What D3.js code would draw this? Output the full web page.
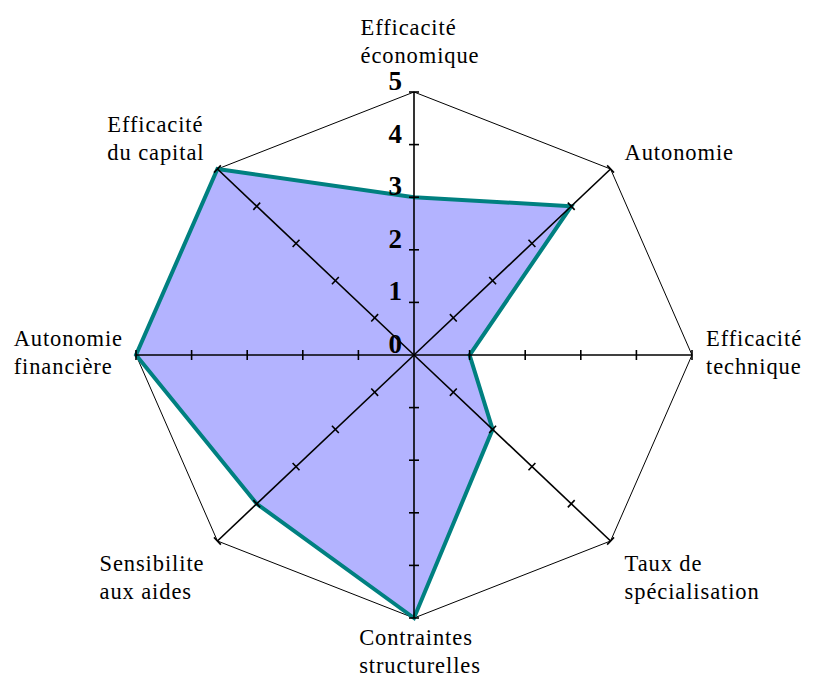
<!DOCTYPE html>
<html><head><meta charset="utf-8">
<script src="https://cdn.jsdelivr.net/npm/d3@7"></script>
<style>
body{margin:0;background:#fff}
text{font-family:'Liberation Serif','Times New Roman',serif;}
</style>
</head><body><svg id="c" width="814" height="677"></svg>
<script>
const categories = [["Efficacité","économique"],["Autonomie"],["Efficacité","technique"],["Taux de","spécialisation"],["Contraintes","structurelles"],["Sensibilite","aux aides"],["Autonomie","financière"],["Efficacité","du capital"]];
const values = [3,4,1,2,5,4,5,5];
const tickValues = [0,1,2,3,4,5];

const cx = 414, cy = 355, rx = 278, ry = 263;
const rX = d3.scaleLinear().domain([0,5]).range([0,rx]);
const rY = d3.scaleLinear().domain([0,5]).range([0,ry]);
const n = categories.length;
const ang = i => i * 2 * Math.PI / n;
const pt = (i, v) => [cx + rX(v) * Math.sin(ang(i)), cy - rY(v) * Math.cos(ang(i))];

const svg = d3.select("#c");
const line = d3.line();

// outer web
svg.append("path")
  .attr("d", line(d3.range(n).map(i => pt(i, 5))) + "Z")
  .attr("fill", "none").attr("stroke", "#000").attr("stroke-width", 1);

// data polygon
svg.append("path")
  .attr("d", line(values.map((v, i) => pt(i, v))) + "Z")
  .attr("fill", "#b3b3ff").attr("stroke", "#008080").attr("stroke-width", 4)
  .attr("stroke-linejoin", "miter");

// axes
const ax = svg.append("g");
d3.range(n).forEach(i => {
  const [x1, y1] = pt(i, 5);
  ax.append("line").attr("x1", cx).attr("y1", cy).attr("x2", x1).attr("y2", y1)
    .attr("stroke", "#000").attr("stroke-width", 1.6);
  const dx = x1 - cx, dy = y1 - cy, L = Math.hypot(dx, dy);
  const px = -dy / L * 5, py = dx / L * 5;
  tickValues.filter(t => t > 0).forEach(t => {
    const [tx, ty] = pt(i, t);
    ax.append("line").attr("x1", tx - px).attr("y1", ty - py).attr("x2", tx + px).attr("y2", ty + py)
      .attr("stroke", "#000").attr("stroke-width", 1.6);
  });
});

// tick labels
svg.append("g").selectAll("text").data(tickValues).join("text")
  .attr("x", cx - 12).attr("y", d => cy - rY(d) - 2)
  .attr("text-anchor", "end")
  .style("font-weight", "bold").style("font-size", "27px")
  .text(d => d);

// category labels
const lh = 28;
const lg = svg.append("g");
categories.forEach((lines, i) => {
  const [vx, vy] = pt(i, 5);
  const s = Math.sin(ang(i)), c = Math.cos(ang(i));
  const t = lg.append("text").style("font-size", "22.5px").style("letter-spacing", "0.9px").attr("fill", "#000");
  lines.forEach((l, k) => t.append("tspan").attr("x", 0).attr("dy", k === 0 ? 0 : lh).text(l));
  const w = t.node().getBBox().width;
  let left;
  if (s > 0.3) left = vx + 14;
  else if (s < -0.3) left = vx - 13 - w;
  else left = vx + 6 - w / 2;
  let first;
  const m = lines.length - 1;
  if (c > 0.9) first = vy - 29 - lh * m;
  else if (c > 0.3) first = vy - 9 - lh * m;
  else if (c > -0.3) first = vy - 9;
  else if (c > -0.9) first = vy + 30;
  else first = vy + 27;
  t.attr("transform", `translate(${left},${first})`);
});
</script></body></html>
